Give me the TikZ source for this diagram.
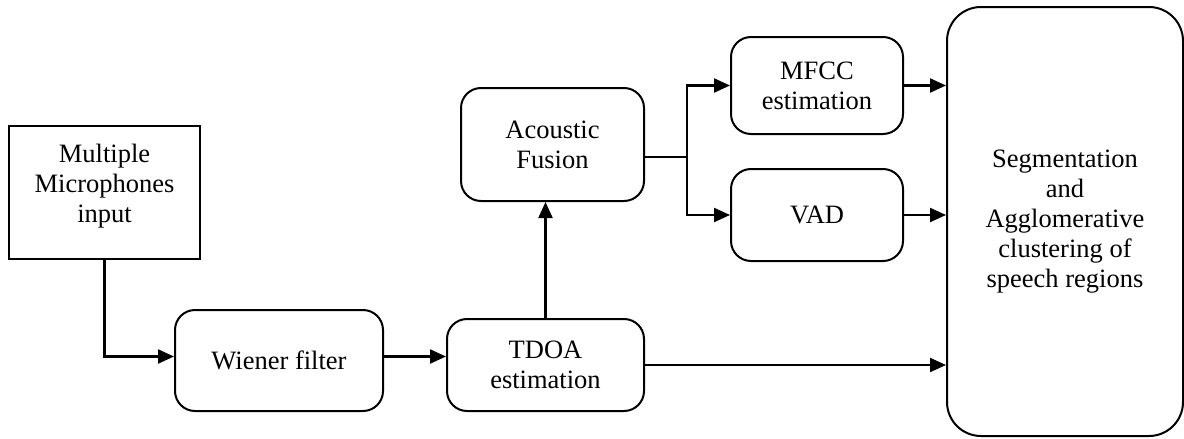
\documentclass[tikz,border=0pt]{standalone}
\usepackage{fontspec}
\setmainfont{Liberation Serif}
\newfontfamily\boxfont{Liberation Serif}
\usetikzlibrary{arrows.meta,calc}
\begin{document}
\begin{tikzpicture}[x=1pt,y=-1pt,
  every node/.style={font=\boxfont\fontsize{26.5}{30}\selectfont, align=center, inner sep=0pt},
  sqbox/.style={draw, line width=2pt},
  rbox/.style={draw, line width=2pt, rounded corners=20pt},
  conn/.style={line width=2.2pt},
  arr/.style={conn, -{Triangle[length=16pt,width=14pt]}}]
\useasboundingbox (0,0) rectangle (1184,439);
\node[sqbox, minimum width=191pt, minimum height=133pt] (mic) at (104.5,192.5) {\raisebox{6pt}[\height][\depth]{\begin{tabular}{@{}c@{}}Multiple\\Microphones\\input\end{tabular}}};
\node[rbox, minimum width=208pt, minimum height=101pt] (wiener) at (279,360.5) {Wiener filter};
\node[rbox, minimum width=197pt, minimum height=92pt] (tdoa) at (545.5,365) {TDOA\\estimation};
\node[rbox, minimum width=183pt, minimum height=113pt] (acoustic) at (552.5,144.5) {Acoustic\\Fusion};
\node[rbox, minimum width=172pt, minimum height=97pt] (mfcc) at (817,85.5) {MFCC\\estimation};
\node[rbox, minimum width=172pt, minimum height=92pt] (vad) at (817,215) {VAD};
\node[rbox, rounded corners=34pt, minimum width=236pt, minimum height=429pt] (seg) at (1065,221.5) {Segmentation\\and\\Agglomerative\\clustering of\\speech regions};
\coordinate (br) at (687,157);
\coordinate (wi) at ($(wiener.west)+(0,-4)$);
\draw[arr] (mic.south) |- (wi);
\draw[arr] ($(wiener.east)+(0,-4)$) -- ($(wiener.east -| tdoa.west)+(0,-4)$);
\draw[arr] (tdoa.north) -- (tdoa.north |- acoustic.south);
\draw[conn] (acoustic.east |- br) -- (br);
\draw[arr] (br) |- (mfcc.west);
\draw[arr] (br) |- (vad.west);
\draw[arr] (mfcc.east) -- (mfcc.east -| seg.west);
\draw[arr] (vad.east) -- (vad.east -| seg.west);
\draw[arr] (tdoa.east) -- (tdoa.east -| seg.west);
\end{tikzpicture}
\end{document}
